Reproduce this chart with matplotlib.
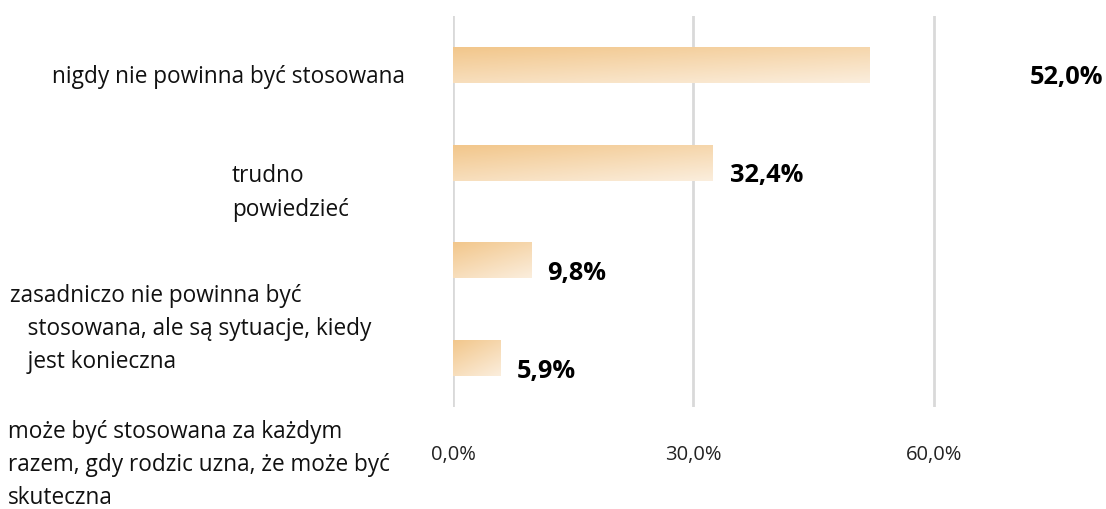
import numpy as np
import matplotlib
matplotlib.use("Agg")
import matplotlib.pyplot as plt
from matplotlib.colors import LinearSegmentedColormap

plt.rcParams['font.family'] = ['Open Sans', 'DejaVu Sans']

categories = [
    "nigdy nie powinna być stosowana",
    "trudno\npowiedzieć",
    "zasadniczo nie powinna być\n   stosowana, ale są sytuacje, kiedy\n   jest konieczna",
    "może być stosowana za każdym\nrazem, gdy rodzic uzna, że może być\nskuteczna",
]
values = [52.0, 32.4, 9.8, 5.9]
value_labels = ["52,0%", "32,4%", "9,8%", "5,9%"]
xticks = [0, 30, 60]
xtick_labels = ["0,0%", "30,0%", "60,0%"]

# label placement (figure pixels, from top-left) -- style only
cat_pos = [(405, 77, 'right'), (232, 193, 'left'), (10, 329, 'left'), (8, 465, 'left')]
val_offset_px = [160, 17, 16, 16]

W, H = 1106, 510
fig = plt.figure(figsize=(W / 100, H / 100), dpi=100)
ax = fig.add_axes([453 / W, (H - 408) / H, (1094 - 453) / W, (408 - 17) / H])

n = len(values)
ypos = np.arange(n)

cmap = LinearSegmentedColormap.from_list("g", ["#F2C68A", "#FBEEDD"])
u = np.linspace(0, 1, 200)
v = np.linspace(0, 1, 40)
U, V = np.meshgrid(u, v)
grad = 0.4 * U + 0.6 * V

bh = 0.37
for y, val in zip(ypos, values):
    bar = ax.barh(y, val, height=bh, color='none', edgecolor='none', zorder=2)[0]
    im = ax.imshow(grad, cmap=cmap, aspect='auto', extent=(0, val, y + bh / 2, y - bh / 2),
                   zorder=2, interpolation='bilinear')
    im.set_clip_path(bar)

ax.set_ylim(n - 0.5, -0.5)
ax.set_xlim(0, 80)

for x in xticks:
    ax.axvline(x, color='#D9D9D9', lw=2, zorder=1)

for s in ax.spines.values():
    s.set_visible(False)
ax.set_yticks([])
ax.set_xticks(xticks)
ax.set_xticklabels(xtick_labels, fontsize=14.5, color='#222222')
ax.tick_params(axis='x', length=0, pad=27)

for y, val, lab, off in zip(ypos, values, value_labels, val_offset_px):
    ax.annotate(lab, xy=(val, y), xytext=(off * 0.72, -12 * 0.72), textcoords='offset points',
                ha='left', va='center', fontsize=18.3, fontweight='bold', color='black')

for txt, (px, py, ha) in zip(categories, cat_pos):
    fig.text(px / W, 1 - py / H, txt, ha=ha, va='center', fontsize=16.3,
             color='#111111', linespacing=1.52, multialignment='left')

fig.savefig("out.png", dpi=100, facecolor='white')
